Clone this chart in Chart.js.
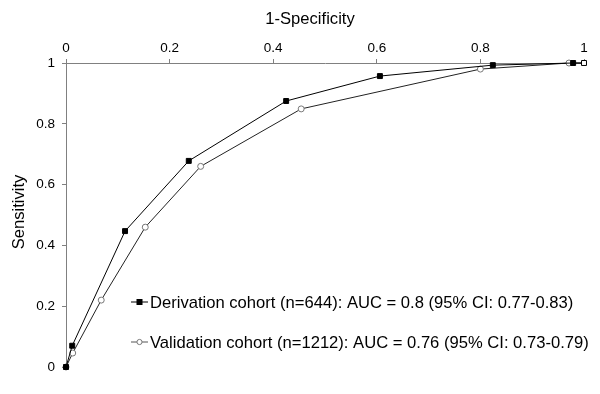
<!DOCTYPE html>
<html>
<head>
<meta charset="utf-8">
<script src="https://cdn.jsdelivr.net/npm/chart.js@4/dist/chart.umd.min.js"></script>
<style>
  html, body { margin: 0; padding: 0; background: #fff; }
  #wrap { width: 600px; height: 394px; }
</style>
</head>
<body>
<div id="wrap"><canvas id="roc" width="600" height="394"></canvas></div>
<script>
// ROC curve points (1-Specificity, Sensitivity)
const derivX = [0, 0.012, 0.114, 0.237, 0.425, 0.606, 0.824, 0.979, 1];
const derivY = [0, 0.07, 0.447, 0.678, 0.875, 0.957, 0.993, 1, 1];
const validX = [0, 0.013, 0.068, 0.153, 0.26, 0.454, 0.80, 0.971, 1];
const validY = [0, 0.046, 0.22, 0.46, 0.66, 0.849, 0.98, 1, 1];
const seriesLabels = [
  'Derivation cohort (n=644): AUC = 0.8 (95% CI: 0.77-0.83)',
  'Validation cohort (n=1212): AUC = 0.76 (95% CI: 0.73-0.79)'
];
const tickValues = [0, 0.2, 0.4, 0.6, 0.8, 1];
const xTitle = '1-Specificity';
const yTitle = 'Sensitivity';

const FONT = 'Arial, "Liberation Sans", sans-serif';
const AXIS = '#808080';

const toPts = (xs, ys) => xs.map((x, i) => ({ x, y: ys[i] }));

// axis titles + legend drawn inside the plot, lower right
const innerLegend = {
  id: 'innerLegend',
  afterDraw(chart) {
    const ctx = chart.ctx;
    ctx.save();
    ctx.font = '16.6px ' + FONT;
    ctx.fillStyle = '#000';
    ctx.textAlign = 'center';
    ctx.textBaseline = 'middle';
    ctx.fillText(xTitle, 310, 19);
    ctx.save();
    ctx.translate(19, 212);
    ctx.rotate(-Math.PI / 2);
    ctx.fillText(yTitle, 0, 0);
    ctx.restore();

    ctx.textAlign = 'left';
    const rows = [302, 342];
    chart.data.datasets.forEach((ds, i) => {
      const y = rows[i];
      ctx.strokeStyle = i === 0 ? '#000' : '#555';
      ctx.lineWidth = 1;
      ctx.beginPath();
      ctx.moveTo(131, y);
      ctx.lineTo(148, y);
      ctx.stroke();
      if (i === 0) {
        ctx.fillStyle = '#000';
        ctx.fillRect(136.5, y - 3, 6, 6);
      } else {
        ctx.fillStyle = '#fff';
        ctx.strokeStyle = '#777';
        ctx.beginPath();
        ctx.arc(139.5, y, 2.6, 0, Math.PI * 2);
        ctx.fill();
        ctx.stroke();
      }
      ctx.fillStyle = '#000';
      ctx.fillText(ds.label, 150, y + 1);
    });
    ctx.restore();
  }
};

new Chart(document.getElementById('roc'), {
  type: 'scatter',
  data: {
    datasets: [
      {
        label: seriesLabels[0],
        data: toPts(derivX, derivY),
        showLine: true,
        borderColor: '#000',
        borderWidth: 1,
        pointStyle: 'rect',
        pointRadius: 3.5,
        pointBackgroundColor: derivX.map((x, i) => i === derivX.length - 1 ? '#fff' : '#000'),
        pointBorderColor: '#000',
        pointBorderWidth: 1,
        clip: false,
      },
      {
        label: seriesLabels[1],
        data: toPts(validX, validY),
        showLine: true,
        borderColor: '#222',
        borderWidth: 1,
        pointStyle: 'circle',
        pointRadius: validX.map((x, i) => i === validX.length - 1 ? 0 : 3),
        pointBackgroundColor: '#fff',
        pointBorderColor: '#777',
        pointBorderWidth: 1,
        clip: false,
      },
    ],
  },
  options: {
    responsive: false,
    animation: false,
    layout: { padding: { left: 0, right: 16, top: 0, bottom: 27 } },
    plugins: {
      legend: { display: false },
      tooltip: { enabled: false },
    },
    scales: {
      x: {
        type: 'linear',
        position: 'top',
        min: 0,
        max: 1,
        afterBuildTicks: s => { s.ticks = tickValues.map(v => ({ value: v })); },
        afterFit: s => { s.height = 63; },
        ticks: {
          color: '#000',
          font: { family: FONT, size: 13.5 },
          padding: 3,
          maxRotation: 0,
          callback: v => String(v),
        },
        grid: { drawOnChartArea: false, tickLength: 4, color: AXIS },
        border: { color: AXIS, width: 1 },
        title: { display: false },
      },
      y: {
        type: 'linear',
        min: 0,
        max: 1,
        afterBuildTicks: s => { s.ticks = tickValues.map(v => ({ value: v })); },
        afterFit: s => { s.width = 66; },
        ticks: {
          color: '#000',
          font: { family: FONT, size: 13.5 },
          padding: 7,
          callback: v => String(v),
        },
        grid: { drawOnChartArea: false, tickLength: 4, color: AXIS },
        border: { color: AXIS, width: 1 },
        title: { display: false },
      },
    },
  },
  plugins: [innerLegend],
});
</script>
</body>
</html>
